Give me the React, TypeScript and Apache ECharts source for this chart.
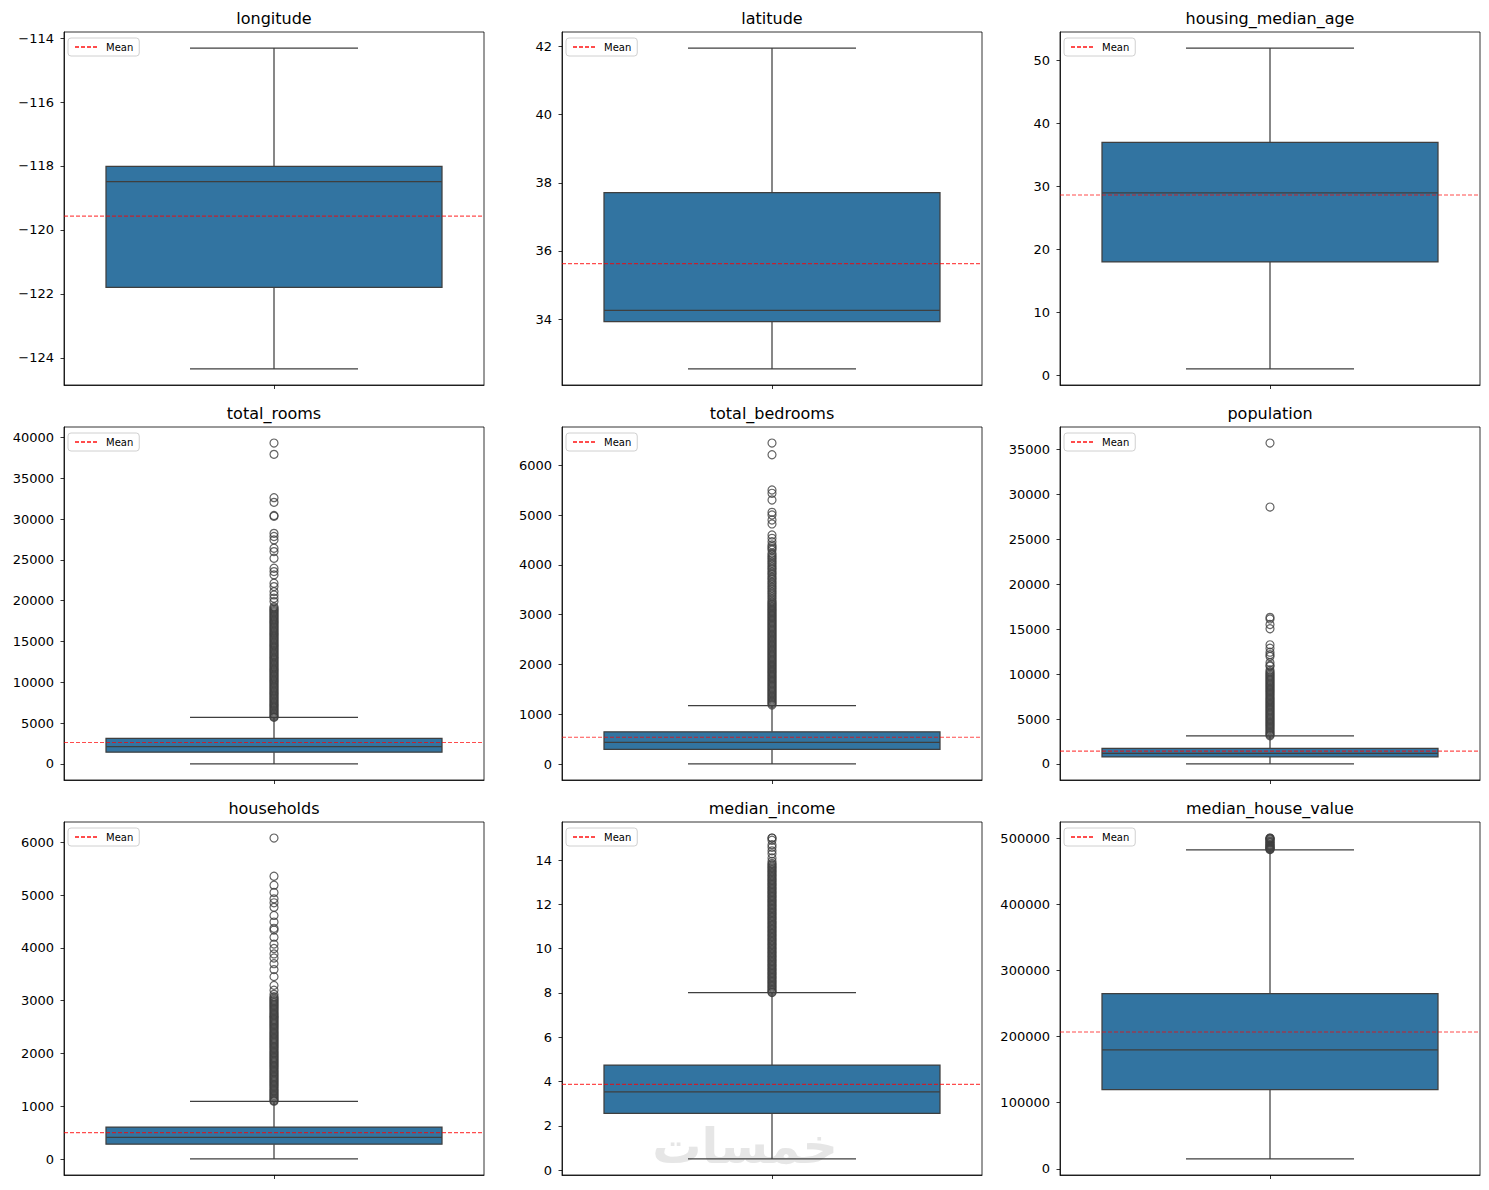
import React, { useEffect, useRef } from "react";
import * as echarts from "echarts";

const FEATURES = [
  "longitude",
  "latitude",
  "housing_median_age",
  "total_rooms",
  "total_bedrooms",
  "population",
  "households",
  "median_income",
  "median_house_value",
];

// [lower whisker, Q1, median, Q3, upper whisker]
const BOX_LONGITUDE = [-124.35, -121.8, -118.49, -118.01, -114.31];
const BOX_LATITUDE = [32.54, 33.93, 34.26, 37.71, 41.95];
const BOX_AGE = [1, 18, 29, 37, 52];
const BOX_ROOMS = [2, 1447.75, 2127, 3148, 5694];
const BOX_BEDROOMS = [1, 296, 435, 647, 1173];
const BOX_POPULATION = [3, 787, 1166, 1725, 3132];
const BOX_HOUSEHOLDS = [1, 280, 409, 605, 1092];
const BOX_INCOME = [0.4999, 2.5634, 3.5348, 4.7432, 8.0113];
const BOX_VALUE = [14999, 119600, 179700, 264725, 482200];

const MEANS = [-119.57, 35.63, 28.64, 2635.76, 537.87, 1425.48, 499.54, 3.8707, 206855.8];

// outliers
const OUT_LONGITUDE: number[] = [];
const OUT_LATITUDE: number[] = [];
const OUT_AGE: number[] = [];
const OUT_ROOMS = [
  39320, 37937, 32627, 32054, 30450, 30350, 28258, 27870, 27450, 26430, 26022, 25205,
  23980, 23572, 23163, 22142, 21734, 21121, 20713, 20305, 19897,
  19270, 19120, 18970, 18820, 18670, 18520, 18370, 18220, 18070, 17920, 17770, 17620,
  17470, 17320, 17170, 17020, 16870, 16720, 16570, 16420, 16270, 16120, 15970, 15820,
  15670, 15520, 15370, 15220, 15070, 14920, 14770, 14620, 14470, 14320, 14170, 14020,
  13870, 13720, 13570, 13420, 13270, 13120, 12970, 12820, 12670, 12520, 12370, 12220,
  12070, 11920, 11770, 11620, 11470, 11320, 11170, 11020, 10870, 10720, 10570, 10420,
  10270, 10120, 9970, 9820, 9670, 9520, 9370, 9220, 9070, 8920, 8770, 8620, 8470, 8320,
  8170, 8020, 7870, 7720, 7570, 7420, 7270, 7120, 6970, 6820, 6670, 6520, 6370, 6220,
  6070, 5920, 5770, 5710,
];
const OUT_BEDROOMS = [
  6445, 6210, 5502, 5436, 5301, 5054, 5000, 4900, 4820, 4599, 4532, 4465, 4400, 4364,
  4330, 4297, 4230, 4197, 4160, 4130, 4097, 4060, 4030, 3996, 3960, 3929, 3900, 3862,
  3830, 3800, 3762, 3730, 3700, 3661, 3630, 3594, 3560, 3530, 3494, 3460, 3430, 3393,
  3360, 3326, 3290,
  3260, 3235, 3210, 3185, 3160, 3135, 3110, 3085, 3060, 3035, 3010, 2985, 2960, 2935,
  2910, 2885, 2860, 2835, 2810, 2785, 2760, 2735, 2710, 2685, 2660, 2635, 2610, 2585,
  2560, 2535, 2510, 2485, 2460, 2435, 2410, 2385, 2360, 2335, 2310, 2285, 2260, 2235,
  2210, 2185, 2160, 2135, 2110, 2085, 2060, 2035, 2010, 1985, 1960, 1935, 1910, 1885,
  1860, 1835, 1810, 1785, 1760, 1735, 1710, 1685, 1660, 1635, 1610, 1585, 1560, 1535,
  1510, 1485, 1460, 1435, 1410, 1385, 1360, 1335, 1310, 1285, 1260, 1235, 1210, 1185,
];
const OUT_POPULATION = [
  35682, 28566, 16305, 16122, 15507, 15037, 13251, 12873, 12427, 12153, 11956, 11272,
  10988, 10877, 10450,
  10260, 10120, 9980, 9840, 9700, 9560, 9420, 9280, 9140, 9000, 8860, 8720, 8580, 8440,
  8300, 8160, 8020, 7880, 7740, 7600, 7460, 7320, 7180, 7040, 6900, 6760, 6620, 6480,
  6340, 6200, 6060, 5920, 5780, 5640, 5500, 5360, 5220, 5080, 4940, 4800, 4660, 4520,
  4380, 4240, 4100, 3960, 3820, 3680, 3540, 3400, 3260, 3140,
];
const OUT_HOUSEHOLDS = [
  6082, 5358, 5189, 5050, 4930, 4855, 4769, 4616, 4490, 4372, 4339, 4204, 4072, 3990,
  3886, 3809, 3701, 3589, 3456, 3290, 3200, 3120,
  3076, 3052, 3028, 3004, 2980, 2956, 2932, 2908, 2884, 2860, 2836, 2812, 2788, 2764,
  2740, 2716, 2692, 2668, 2644, 2620, 2596, 2572, 2548, 2524, 2500, 2476, 2452, 2428,
  2404, 2380, 2356, 2332, 2308, 2284, 2260, 2236, 2212, 2188, 2164, 2140, 2116, 2092,
  2068, 2044, 2020, 1996, 1972, 1948, 1924, 1900, 1876, 1852, 1828, 1804, 1780, 1756,
  1732, 1708, 1684, 1660, 1636, 1612, 1588, 1564, 1540, 1516, 1492, 1468, 1444, 1420,
  1396, 1372, 1348, 1324, 1300, 1276, 1252, 1228, 1204, 1180, 1156, 1132, 1108, 1096,
];
const OUT_INCOME = [
  15.0001, 15.0001, 14.9009, 14.7, 14.5833, 14.4219, 14.2867, 14.1, 13.947, 13.8556,
  13.8, 13.74, 13.68, 13.62, 13.56, 13.5, 13.44, 13.38, 13.32, 13.26, 13.2, 13.14, 13.08,
  13.02, 12.96, 12.9, 12.84, 12.78, 12.72, 12.66, 12.6, 12.54, 12.48, 12.42, 12.36,
  12.3, 12.24, 12.18, 12.12, 12.06,
  12.0, 11.94, 11.88, 11.82, 11.76, 11.7, 11.64, 11.58, 11.52,
  11.46, 11.4, 11.34, 11.28, 11.22, 11.16, 11.1, 11.04, 10.98, 10.92, 10.86, 10.8,
  10.74, 10.68, 10.62, 10.56, 10.5, 10.44, 10.38, 10.32, 10.26, 10.2, 10.14, 10.08,
  10.02, 9.96, 9.9, 9.84, 9.78, 9.72, 9.66, 9.6, 9.54, 9.48, 9.42, 9.36, 9.3, 9.24,
  9.18, 9.12, 9.06, 9.0, 8.94, 8.88, 8.82, 8.76, 8.7, 8.64, 8.58, 8.52, 8.46, 8.4,
  8.34, 8.28, 8.22, 8.16, 8.1, 8.04, 8.02,
];
const OUT_VALUE = [
  500001, 500000, 499100, 498600, 497400, 495800, 494400, 493400, 492500, 490800, 489600,
  488900, 487500, 486400, 485500, 484700, 483800, 483100, 482700,
];

// axis limits and ticks
const Y_MIN = [-124.852, 32.0695, -1.55, -1963.9, -321.2, -1780.95, -303.05, -0.225, -9262];
const Y_MAX = [-113.808, 42.4205, 54.55, 41285.9, 6767.2, 37465.95, 6386.05, 15.725, 524262];
const TICKS_LONGITUDE = [-124, -122, -120, -118, -116, -114];
const TICKS_LATITUDE = [34, 36, 38, 40, 42];
const TICKS_AGE = [0, 10, 20, 30, 40, 50];
const TICKS_ROOMS = [0, 5000, 10000, 15000, 20000, 25000, 30000, 35000, 40000];
const TICKS_BEDROOMS = [0, 1000, 2000, 3000, 4000, 5000, 6000];
const TICKS_POPULATION = [0, 5000, 10000, 15000, 20000, 25000, 30000, 35000];
const TICKS_HOUSEHOLDS = [0, 1000, 2000, 3000, 4000, 5000, 6000];
const TICKS_INCOME = [0, 2, 4, 6, 8, 10, 12, 14];
const TICKS_VALUE = [0, 100000, 200000, 300000, 400000, 500000];

const BOXES = [BOX_LONGITUDE, BOX_LATITUDE, BOX_AGE, BOX_ROOMS, BOX_BEDROOMS, BOX_POPULATION, BOX_HOUSEHOLDS, BOX_INCOME, BOX_VALUE];
const OUTLIERS = [OUT_LONGITUDE, OUT_LATITUDE, OUT_AGE, OUT_ROOMS, OUT_BEDROOMS, OUT_POPULATION, OUT_HOUSEHOLDS, OUT_INCOME, OUT_VALUE];
const TICKS = [TICKS_LONGITUDE, TICKS_LATITUDE, TICKS_AGE, TICKS_ROOMS, TICKS_BEDROOMS, TICKS_POPULATION, TICKS_HOUSEHOLDS, TICKS_INCOME, TICKS_VALUE];

const WATERMARK = "خمسات";

const FONT = "DejaVu Sans";
const BOX_COLOR = "#3274a1";
const LINE_COLOR = "#3f3f3f";
const COL_LEFT = [64, 562, 1060];
const ROW_TOP = [32, 427, 822];
const PW = 420;
const PH = 353;

function fmt(v: number) {
  return String(v).replace("-", "\u2212");
}

export default function App() {
  const ref = useRef<HTMLDivElement>(null);
  useEffect(() => {
    document.body.style.margin = "0";
    if (!ref.current) return;
    const chart = echarts.init(ref.current, null, { renderer: "svg" });
    const grid: any[] = [];
    const xAxis: any[] = [];
    const yAxis: any[] = [];
    const series: any[] = [];
    const legend: any[] = [];
    const graphic: any[] = [];

    FEATURES.forEach((name, i) => {
      const col = i % 3;
      const row = Math.floor(i / 3);
      const left = COL_LEFT[col];
      const top = ROW_TOP[row];
      grid.push({ left, top, width: PW, height: PH, show: true, borderColor: "#000", borderWidth: 0.8 });
      xAxis.push({
        type: "value",
        gridIndex: i,
        min: -0.5,
        max: 0.5,
        axisLine: { show: true, onZero: false, lineStyle: { color: "#000", width: 0.8 } },
        axisTick: { show: true, customValues: [0], length: 4, lineStyle: { color: "#000", width: 0.8 } },
        axisLabel: { show: false },
        splitLine: { show: false },
      });
      yAxis.push({
        type: "value",
        gridIndex: i,
        min: Y_MIN[i],
        max: Y_MAX[i],
        axisLine: { show: true, onZero: false, lineStyle: { color: "#000", width: 0.8 } },
        axisTick: { show: true, customValues: TICKS[i], length: 3.5, lineStyle: { color: "#000", width: 0.8 } },
        axisLabel: {
          show: true,
          customValues: TICKS[i],
          formatter: (v: number) => fmt(v),
          fontSize: 13,
          color: "#000",
          fontFamily: FONT,
          margin: 10,
        },
        splitLine: { show: false },
      });
      series.push({
        type: "scatter",
        xAxisIndex: i,
        yAxisIndex: i,
        data: OUTLIERS[i].map((v) => [0, v]),
        symbol: "circle",
        symbolSize: 8,
        itemStyle: { color: "rgba(255,255,255,0)", borderColor: LINE_COLOR, borderWidth: 1.2 },
        z: 2,
        silent: true,
      });
      series.push({
        type: "custom",
        xAxisIndex: i,
        yAxisIndex: i,
        data: [[0, ...BOXES[i]]],
        encode: { x: 0, y: [1, 2, 3, 4, 5] },
        z: 3,
        silent: true,
        renderItem: (params: any, api: any) => {
          const x = api.value(0);
          const pMin = api.coord([x, api.value(1)]);
          const pQ1 = api.coord([x, api.value(2)]);
          const pMed = api.coord([x, api.value(3)]);
          const pQ3 = api.coord([x, api.value(4)]);
          const pMax = api.coord([x, api.value(5)]);
          const bw = api.size([0.8, 0])[0];
          const cw = bw / 4;
          const cx = pMin[0];
          const ls = { stroke: LINE_COLOR, lineWidth: 1.25 };
          return {
            type: "group",
            children: [
              { type: "line", shape: { x1: cx, y1: pQ3[1], x2: cx, y2: pMax[1] }, style: ls },
              { type: "line", shape: { x1: cx, y1: pQ1[1], x2: cx, y2: pMin[1] }, style: ls },
              { type: "line", shape: { x1: cx - cw, y1: pMax[1], x2: cx + cw, y2: pMax[1] }, style: ls },
              { type: "line", shape: { x1: cx - cw, y1: pMin[1], x2: cx + cw, y2: pMin[1] }, style: ls },
              {
                type: "rect",
                shape: { x: cx - bw / 2, y: pQ3[1], width: bw, height: pQ1[1] - pQ3[1] },
                style: { fill: BOX_COLOR, stroke: LINE_COLOR, lineWidth: 1.25 },
              },
              { type: "line", shape: { x1: cx - bw / 2, y1: pMed[1], x2: cx + bw / 2, y2: pMed[1] }, style: ls },
            ],
          };
        },
      });
      series.push({
        type: "line",
        name: "Mean",
        xAxisIndex: i,
        yAxisIndex: i,
        data: [
          [-0.5, MEANS[i]],
          [0.5, MEANS[i]],
        ],
        symbol: "none",
        color: "#ff0000",
        lineStyle: { color: "#ff0000", opacity: 0.7, width: 1.1, type: [4, 2] },
        z: 4,
        silent: true,
      });
      legend.push({
        show: true,
        data: ["Mean"],
        left: left + 4,
        top: top + 6,
        orient: "horizontal",
        itemWidth: 22,
        itemHeight: 10,
        padding: [4, 6, 4, 6],
        backgroundColor: "#fff",
        borderColor: "#d0d0d0",
        borderWidth: 1,
        borderRadius: 3,
        selectedMode: false,
        itemStyle: { opacity: 0 },
        textStyle: { fontSize: 10, color: "#000", fontFamily: FONT, padding: [0, 0, 0, 4] },
      });
      graphic.push({
        type: "text",
        x: left + PW / 2,
        y: top - 14,
        silent: true,
        style: {
          text: name,
          fontSize: 16,
          fontFamily: FONT,
          fill: "#000",
          textAlign: "center",
          textVerticalAlign: "middle",
        },
      });
    });

    graphic.push({
      type: "text",
      x: 745,
      y: 1146,
      z: -10,
      silent: true,
      style: {
        text: WATERMARK,
        fontSize: 49,
        fontWeight: "bold",
        fontFamily: FONT,
        fill: "#e6e6e6",
        textAlign: "center",
        textVerticalAlign: "middle",
      },
    });

    chart.setOption({
      animation: false,
      backgroundColor: "#fff",
      textStyle: { fontFamily: FONT },
      grid,
      xAxis,
      yAxis,
      series,
      legend,
      graphic,
    });
    return () => chart.dispose();
  }, []);
  return <div ref={ref} style={{ position: "absolute", left: 0, top: 0, width: 1489, height: 1190 }} />;
}
